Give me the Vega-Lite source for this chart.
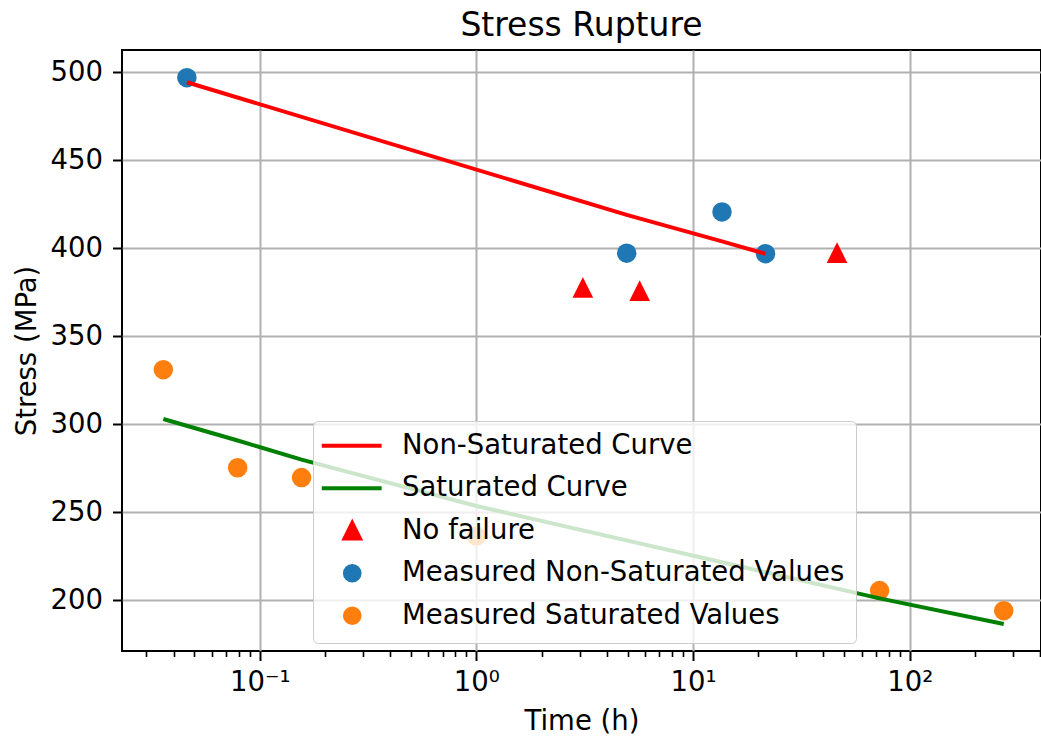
{
  "$schema": "https://vega.github.io/schema/vega-lite/v6.json",
  "autosize": {"type": "none"},
  "width": 919,
  "height": 601,
  "padding": {"left": 122, "top": 50, "right": 0, "bottom": 85},
  "background": "white",
  "config": {
    "font": "DejaVu Sans",
    "view": {"stroke": "black", "strokeWidth": 2}
  },
  "title": {
    "text": "Stress Rupture",
    "fontSize": 33,
    "fontWeight": "normal",
    "font": "DejaVu Sans",
    "color": "black",
    "frame": "group",
    "baseline": "bottom",
    "offset": -26,
    "anchor": "middle"
  },
  "resolve": {"axis": {"x": "independent"}},
  "data": {
    "values": [
      {"series": "Non-Saturated Curve", "time": 0.0461, "stress": 494.3},
      {"series": "Non-Saturated Curve", "time": 4.94, "stress": 418.9},
      {"series": "Non-Saturated Curve", "time": 13.6, "stress": 403.9},
      {"series": "Non-Saturated Curve", "time": 21.6, "stress": 396.8},
      {"series": "Saturated Curve", "time": 0.0359, "stress": 303.0},
      {"series": "Saturated Curve", "time": 0.0791, "stress": 290.8},
      {"series": "Saturated Curve", "time": 0.156, "stress": 279.9},
      {"series": "Saturated Curve", "time": 1.0, "stress": 253.6},
      {"series": "Saturated Curve", "time": 72.6, "stress": 201.1},
      {"series": "Saturated Curve", "time": 271.6, "stress": 186.5},
      {"series": "No failure", "time": 3.10, "stress": 377.8},
      {"series": "No failure", "time": 5.67, "stress": 375.9},
      {"series": "No failure", "time": 46.2, "stress": 397.5},
      {"series": "Measured Non-Saturated Values", "time": 0.0461, "stress": 496.9},
      {"series": "Measured Non-Saturated Values", "time": 4.94, "stress": 397.2},
      {"series": "Measured Non-Saturated Values", "time": 13.6, "stress": 420.6},
      {"series": "Measured Non-Saturated Values", "time": 21.6, "stress": 396.9},
      {"series": "Measured Saturated Values", "time": 0.0359, "stress": 331.0},
      {"series": "Measured Saturated Values", "time": 0.0791, "stress": 275.3},
      {"series": "Measured Saturated Values", "time": 0.156, "stress": 269.7},
      {"series": "Measured Saturated Values", "time": 1.0, "stress": 236.5},
      {"series": "Measured Saturated Values", "time": 72.6, "stress": 205.5},
      {"series": "Measured Saturated Values", "time": 271.6, "stress": 194.1}
    ]
  },
  "layer": [
    {
      "transform": [{"filter": {"field": "series", "oneOf": ["Measured Non-Saturated Values", "Measured Saturated Values"]}}],
      "mark": {"type": "point", "filled": true, "size": 380, "opacity": 1},
      "encoding": {
        "x": {
          "field": "time", "type": "quantitative",
          "scale": {"type": "log", "domain": [0.02314, 403.6], "nice": false},
          "axis": {
            "orient": "bottom",
            "values": [0.1, 1, 10, 100],
            "labelExpr": "datum.value < 0.5 ? '10⁻¹' : datum.value < 5 ? '10⁰' : datum.value < 50 ? '10¹' : '10²'",
            "grid": true, "gridColor": "#b0b0b0", "gridWidth": 2,
            "domain": false,
            "ticks": true, "tickSize": 9.5, "tickWidth": 2, "tickColor": "black",
            "labelFontSize": 27.5, "labelColor": "black", "labelPadding": 8, "labelFont": "DejaVu Sans",
            "title": "Time (h)", "titleFontSize": 27.5, "titleFontWeight": "normal", "titleColor": "black", "titlePadding": 11, "titleFont": "DejaVu Sans"
          }
        },
        "y": {
          "field": "stress", "type": "quantitative",
          "scale": {"domain": [171.2, 512.6], "nice": false, "zero": false},
          "axis": {
            "values": [200, 250, 300, 350, 400, 450, 500],
            "grid": true, "gridColor": "#b0b0b0", "gridWidth": 2,
            "domain": false,
            "tickSize": 9.5, "tickWidth": 2, "tickColor": "black",
            "labelFontSize": 27.5, "labelColor": "black", "labelPadding": 10, "labelFont": "DejaVu Sans",
            "title": "Stress (MPa)", "titleFontSize": 27.5, "titleFontWeight": "normal", "titleColor": "black", "titlePadding": 9, "titleFont": "DejaVu Sans"
          }
        },
        "color": {
          "field": "series", "type": "nominal",
          "scale": {
            "domain": ["Non-Saturated Curve", "Saturated Curve", "No failure", "Measured Non-Saturated Values", "Measured Saturated Values"],
            "range": ["#ff0000", "#008000", "#ff0000", "#1f77b4", "#ff7f0e"]
          },
          "legend": {
            "title": null,
            "orient": "none",
            "legendX": 191,
            "legendY": 371,
            "direction": "vertical",
            "columns": 1,
            "gridAlign": "all",
            "labelFontSize": 27.5,
            "labelFont": "DejaVu Sans",
            "labelColor": "black",
            "labelLimit": 600,
            "symbolSize": 216,
            "symbolStrokeWidth": 4,
            "fillColor": "rgba(255,255,255,0.8)",
            "strokeColor": "#cccccc",
            "cornerRadius": 5,
            "padding": 11,
            "rowPadding": 10.5,
            "symbolOffset": 14.5,
            "labelOffset": 36,
            "encode": {
              "symbols": {
                "update": {
                  "fill": {"scale": "color", "field": "value"},
                  "stroke": {"scale": "color", "field": "value"},
                  "opacity": {"value": 1}
                }
              }
            }
          }
        },
        "shape": {
          "field": "series", "type": "nominal",
          "scale": {
            "domain": ["Non-Saturated Curve", "Saturated Curve", "No failure", "Measured Non-Saturated Values", "Measured Saturated Values"],
            "range": ["M-4.15,0H4", "M-4.15,0H4", "M0,-1.05L1.05,1.05L-1.05,1.05Z", "circle", "circle"]
          }
        }
      }
    },
    {
      "transform": [{"filter": {"field": "series", "equal": "No failure"}}],
      "mark": {"type": "point", "filled": true, "size": 388, "opacity": 1},
      "encoding": {
        "x": {
          "field": "time", "type": "quantitative",
          "scale": {"type": "log", "domain": [0.02314, 403.6], "nice": false},
          "axis": {
            "orient": "bottom",
            "values": [0.03, 0.04, 0.05, 0.06, 0.07, 0.08, 0.09, 0.2, 0.3, 0.4, 0.5, 0.6, 0.7, 0.8, 0.9, 2, 3, 4, 5, 6, 7, 8, 9, 20, 30, 40, 50, 60, 70, 80, 90, 200, 300, 400],
            "labels": false, "grid": false, "domain": false,
            "tickSize": 5.5, "tickWidth": 1.6, "tickColor": "black",
            "title": null
          }
        },
        "y": {
          "field": "stress", "type": "quantitative",
          "scale": {"domain": [171.2, 512.6], "nice": false, "zero": false},
          "axis": {
            "values": [200, 250, 300, 350, 400, 450, 500],
            "grid": true, "gridColor": "#b0b0b0", "gridWidth": 2,
            "domain": false,
            "tickSize": 9.5, "tickWidth": 2, "tickColor": "black",
            "labelFontSize": 27.5, "labelColor": "black", "labelPadding": 10, "labelFont": "DejaVu Sans",
            "title": "Stress (MPa)", "titleFontSize": 27.5, "titleFontWeight": "normal", "titleColor": "black", "titlePadding": 9, "titleFont": "DejaVu Sans"
          }
        },
        "color": {"field": "series", "type": "nominal"},
        "shape": {"field": "series", "type": "nominal"}
      }
    },
    {
      "transform": [{"filter": {"field": "series", "oneOf": ["Non-Saturated Curve", "Saturated Curve"]}}],
      "mark": {"type": "line", "strokeWidth": 4},
      "encoding": {
        "x": {
          "field": "time", "type": "quantitative",
          "scale": {"type": "log", "domain": [0.02314, 403.6], "nice": false},
          "axis": null
        },
        "y": {
          "field": "stress", "type": "quantitative",
          "scale": {"domain": [171.2, 512.6], "nice": false, "zero": false},
          "axis": {
            "values": [200, 250, 300, 350, 400, 450, 500],
            "grid": true, "gridColor": "#b0b0b0", "gridWidth": 2,
            "domain": false,
            "tickSize": 9.5, "tickWidth": 2, "tickColor": "black",
            "labelFontSize": 27.5, "labelColor": "black", "labelPadding": 10, "labelFont": "DejaVu Sans",
            "title": "Stress (MPa)", "titleFontSize": 27.5, "titleFontWeight": "normal", "titleColor": "black", "titlePadding": 9, "titleFont": "DejaVu Sans"
          }
        },
        "color": {"field": "series", "type": "nominal"}
      }
    }
  ]
}
